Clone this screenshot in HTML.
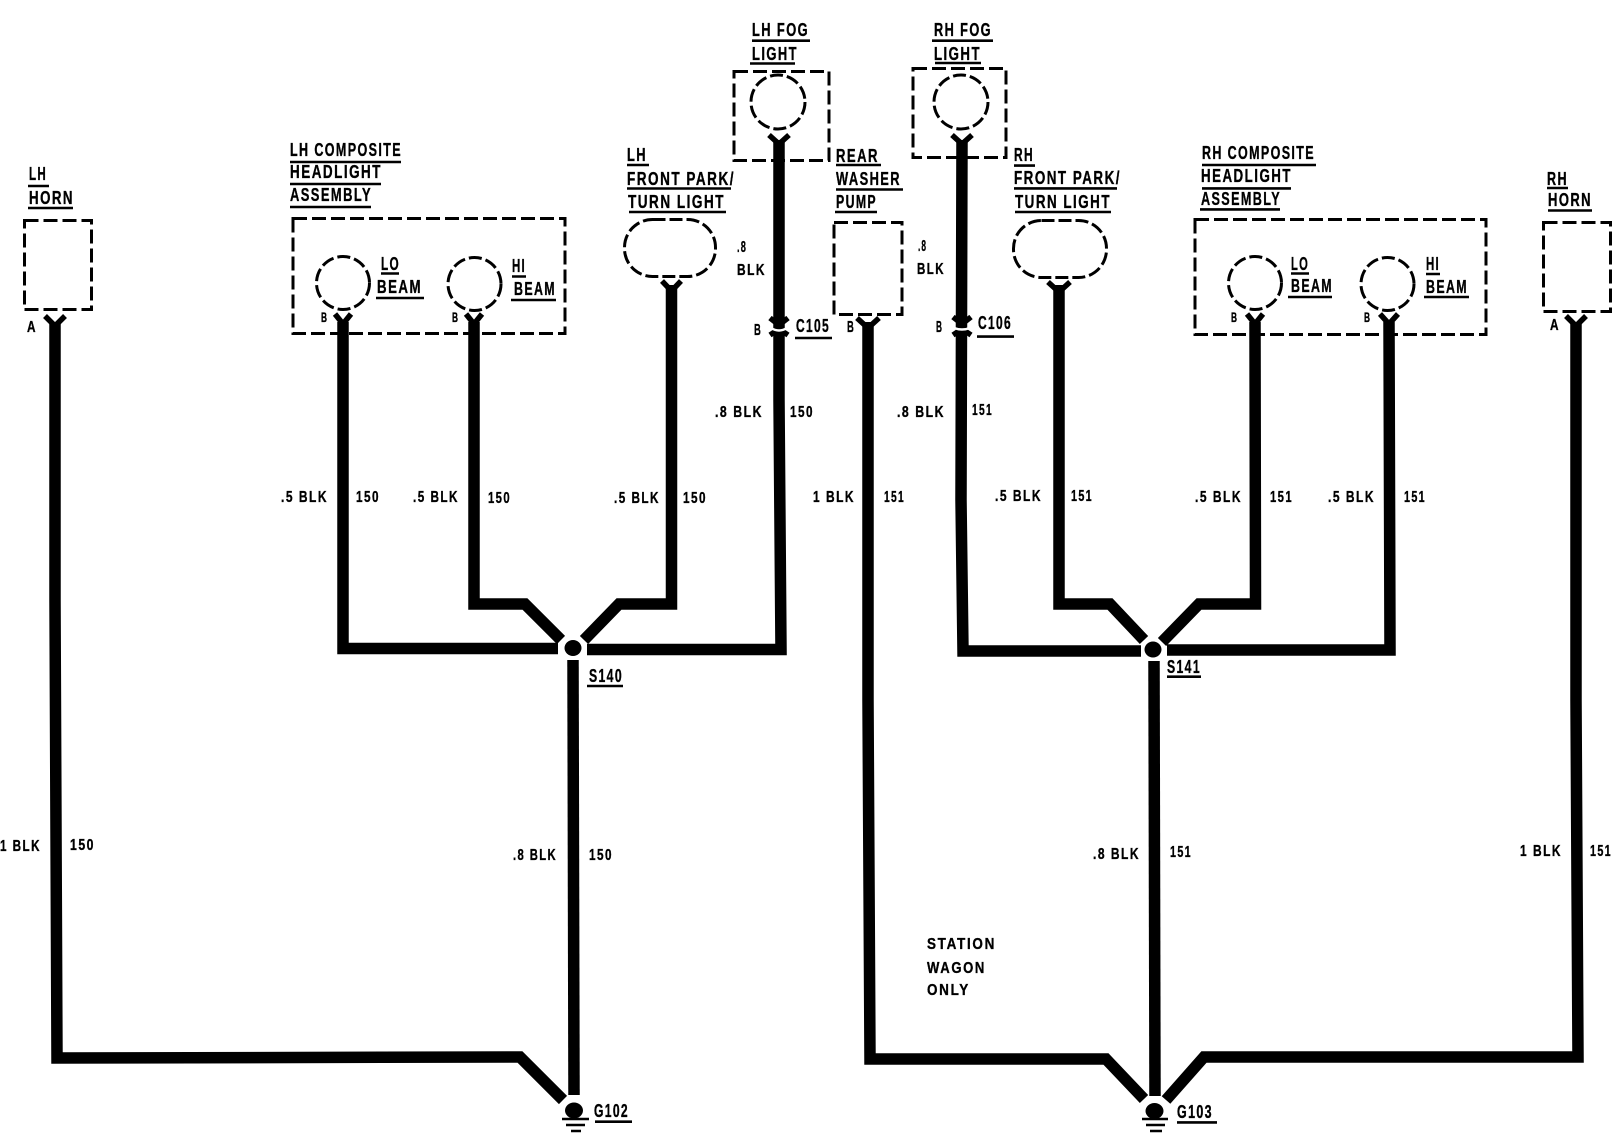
<!DOCTYPE html>
<html><head><meta charset="utf-8"><style>
html,body{margin:0;padding:0;background:#fff}
svg{display:block}
text{font-family:"Liberation Sans",sans-serif;font-weight:700;fill:#000;stroke:#000;stroke-width:.35px}
.l{font-size:18px;letter-spacing:2px}.w{font-size:16px;letter-spacing:2px}.s{font-size:14px}
</style></head><body>
<svg width="1614" height="1136" viewBox="0 0 1614 1136" xmlns="http://www.w3.org/2000/svg">
<rect width="1614" height="1136" fill="#fff"/>
<!-- dashed boxes -->
<g fill="none" stroke="#000" stroke-width="3" stroke-dasharray="14 5">
<rect x="24.5" y="220.5" width="67" height="89"/>
<rect x="293" y="218.5" width="272" height="115"/>
<rect x="734" y="71.5" width="95" height="89"/>
<rect x="913" y="68.5" width="93" height="89"/>
<rect x="834" y="222.5" width="68" height="92"/>
<rect x="1195" y="219.5" width="291" height="115"/>
<rect x="1543.5" y="222.5" width="67" height="89"/>
</g>
<g fill="none" stroke="#000" stroke-width="3" stroke-dasharray="13 4">
<circle cx="343" cy="283" r="26.5"/>
<circle cx="474.5" cy="284" r="26.5"/>
<circle cx="778" cy="102" r="27"/>
<circle cx="961" cy="102" r="27"/>
<circle cx="1255" cy="283" r="26.5"/>
<circle cx="1387.5" cy="284" r="26.5"/>
<rect x="624.5" y="219.5" width="91" height="57" rx="28" ry="28"/>
<rect x="1013.5" y="220.5" width="93" height="57" rx="28" ry="28"/>
</g>
<!-- wires -->
<g fill="none" stroke="#000" stroke-width="11.5" stroke-linejoin="miter">
<polyline points="55,322 55,600 57,1058 520,1057 563,1100"/>
<polyline points="343,322 343,648.5 558,648.5"/>
<polyline points="474,322 474,604 525,604 561,640"/>
<polyline points="671.5,285 671.5,604 619,604 584,640"/>
<polyline points="779,140 779,400 781,649.5 587,649.5"/>
<line x1="573" y1="660" x2="574" y2="1095"/>
<polyline points="868,322 868,700 870,1059 1106,1059 1144,1099"/>
<polyline points="962,140 961,500 963,651 1141,651"/>
<polyline points="1059,285 1059,604 1110,604 1144,640"/>
<polyline points="1255,322 1255.5,604 1199,604 1162,642"/>
<polyline points="1389,322 1390,650 1167,650"/>
<line x1="1154" y1="661" x2="1155" y2="1096"/>
<polyline points="1576,322 1576,700 1578,1057 1204,1057 1166,1100"/>
</g>
<!-- Y terminals -->
<g fill="none" stroke="#000" stroke-width="5.5">
<polyline points="45,316 55,326 65,316"/>
<polyline points="335,314 343,324 351,314"/>
<polyline points="466,314 474,324 482,314"/>
<polyline points="662,281 671.5,291 681,281"/>
<polyline points="769,135 779,144 789,135"/>
<polyline points="952,135 962,144 972,135"/>
<polyline points="857,318 868,328 879,318"/>
<polyline points="1048,282 1059,292 1070,282"/>
<polyline points="1247,314 1255,324 1263,314"/>
<polyline points="1380,314 1389,324 1398,314"/>
<polyline points="1566,316 1576,326 1586,316"/>
<polyline points="770,318 779,325 788,318"/>
<polyline points="770,335 779,329 788,335"/>
<polyline points="953,317 962,324 971,317"/>
<polyline points="953,335 962,329 971,335"/>
</g>
<path d="M771 328Q779 333 787 328M954 328Q962 331 970 328" fill="none" stroke="#fff" stroke-width="2.5"/>
<!-- junctions -->
<g>
<ellipse cx="573" cy="648" rx="8.5" ry="8"/>
<ellipse cx="1153" cy="649.5" rx="8.5" ry="8"/>
<ellipse cx="574" cy="1110.5" rx="9" ry="8"/>
<ellipse cx="1154.5" cy="1111" rx="9" ry="8"/>
</g>
<!-- ground + underlines -->
<path fill="none" stroke="#000" stroke-width="2.6" d="M562 1119H589M566 1125H585M571 1131H581M1142 1119H1168M1146 1125H1165M1150 1131H1162
M28 186H49M28 208H73M290 162H401M290 184H381M290 207H371M381 273.5H399M376 298H424M512 276.5H526M511 300H556
M627 165H649M627 188.5H731M629 212H726M752 40.7H810M750 63.5H795M932 40.7H993M935 63H981M836 165H881M836 189.5H903M835 212H877M795 338H832M977 336.6H1014
M1014 165.6H1035M1014 188.4H1117M1015 212H1111M1202 165H1316M1202 188.4H1291M1200 209.4H1280M1291 273.5H1309M1288 297H1332M1426 274H1440M1424 297H1469M1547 188H1568M1548 210.5H1592
M587 686H623M595 1121.7H632M1167 676.7H1201M1177 1122.4H1217"/>
<!-- labels -->
<g class="l">
<text x="29" y="180" textLength="18" lengthAdjust="spacingAndGlyphs">LH</text>
<text x="29" y="204" textLength="45" lengthAdjust="spacingAndGlyphs">HORN</text>
<text x="290" y="156" textLength="112" lengthAdjust="spacingAndGlyphs">LH COMPOSITE</text>
<text x="290" y="178" textLength="92" lengthAdjust="spacingAndGlyphs">HEADLIGHT</text>
<text x="290" y="201" textLength="82" lengthAdjust="spacingAndGlyphs">ASSEMBLY</text>
<text x="381" y="270" textLength="19" lengthAdjust="spacingAndGlyphs">LO</text>
<text x="377" y="293" textLength="45" lengthAdjust="spacingAndGlyphs">BEAM</text>
<text x="512" y="272" textLength="14" lengthAdjust="spacingAndGlyphs">HI</text>
<text x="514" y="295" textLength="42" lengthAdjust="spacingAndGlyphs">BEAM</text>
<text x="627" y="161" textLength="20" lengthAdjust="spacingAndGlyphs">LH</text>
<text x="627" y="185" textLength="108" lengthAdjust="spacingAndGlyphs">FRONT PARK/</text>
<text x="628" y="208" textLength="97" lengthAdjust="spacingAndGlyphs">TURN LIGHT</text>
<text x="752" y="36" textLength="57" lengthAdjust="spacingAndGlyphs">LH FOG</text>
<text x="752" y="60" textLength="46" lengthAdjust="spacingAndGlyphs">LIGHT</text>
<text x="934" y="36" textLength="58" lengthAdjust="spacingAndGlyphs">RH FOG</text>
<text x="934" y="60" textLength="47" lengthAdjust="spacingAndGlyphs">LIGHT</text>
<text x="836" y="162" textLength="43" lengthAdjust="spacingAndGlyphs">REAR</text>
<text x="836" y="185" textLength="65" lengthAdjust="spacingAndGlyphs">WASHER</text>
<text x="836" y="208" textLength="41" lengthAdjust="spacingAndGlyphs">PUMP</text>
<text x="1014" y="161" textLength="20" lengthAdjust="spacingAndGlyphs">RH</text>
<text x="1014" y="184" textLength="107" lengthAdjust="spacingAndGlyphs">FRONT PARK/</text>
<text x="1015" y="208" textLength="96" lengthAdjust="spacingAndGlyphs">TURN LIGHT</text>
<text x="1202" y="159" textLength="113" lengthAdjust="spacingAndGlyphs">RH COMPOSITE</text>
<text x="1201" y="182" textLength="91" lengthAdjust="spacingAndGlyphs">HEADLIGHT</text>
<text x="1201" y="205" textLength="80" lengthAdjust="spacingAndGlyphs">ASSEMBLY</text>
<text x="1291" y="270" textLength="18" lengthAdjust="spacingAndGlyphs">LO</text>
<text x="1291" y="292" textLength="42" lengthAdjust="spacingAndGlyphs">BEAM</text>
<text x="1426" y="270" textLength="14" lengthAdjust="spacingAndGlyphs">HI</text>
<text x="1426" y="293" textLength="42" lengthAdjust="spacingAndGlyphs">BEAM</text>
<text x="1547" y="185" textLength="21" lengthAdjust="spacingAndGlyphs">RH</text>
<text x="1548" y="206" textLength="44" lengthAdjust="spacingAndGlyphs">HORN</text>
<text x="796" y="332" textLength="34" lengthAdjust="spacingAndGlyphs">C105</text>
<text x="978" y="329" textLength="34" lengthAdjust="spacingAndGlyphs">C106</text>
<text x="589" y="682" textLength="34" lengthAdjust="spacingAndGlyphs">S140</text>
<text x="1167" y="673" textLength="34" lengthAdjust="spacingAndGlyphs">S141</text>
<text x="594" y="1117" textLength="35" lengthAdjust="spacingAndGlyphs">G102</text>
<text x="1177" y="1118" textLength="36" lengthAdjust="spacingAndGlyphs">G103</text>
</g>
<g class="w">
<text x="27" y="332" textLength="10" lengthAdjust="spacingAndGlyphs">A</text>
<text x="1550" y="330" textLength="10" lengthAdjust="spacingAndGlyphs">A</text>
<text x="754" y="335" textLength="8" lengthAdjust="spacingAndGlyphs">B</text>
<text x="847" y="332" textLength="8" lengthAdjust="spacingAndGlyphs">B</text>
<text x="936" y="332" textLength="7" lengthAdjust="spacingAndGlyphs">B</text>
<text x="737" y="252" textLength="10" lengthAdjust="spacingAndGlyphs">.8</text>
<text x="737" y="275" textLength="29" lengthAdjust="spacingAndGlyphs">BLK</text>
<text x="918" y="251" textLength="9" lengthAdjust="spacingAndGlyphs">.8</text>
<text x="917" y="274" textLength="28" lengthAdjust="spacingAndGlyphs">BLK</text>
<text x="281" y="502" textLength="47" lengthAdjust="spacingAndGlyphs">.5 BLK</text>
<text x="356" y="502" textLength="24" lengthAdjust="spacingAndGlyphs">150</text>
<text x="413" y="502" textLength="46" lengthAdjust="spacingAndGlyphs">.5 BLK</text>
<text x="488" y="503" textLength="23" lengthAdjust="spacingAndGlyphs">150</text>
<text x="614" y="503" textLength="46" lengthAdjust="spacingAndGlyphs">.5 BLK</text>
<text x="683" y="503" textLength="24" lengthAdjust="spacingAndGlyphs">150</text>
<text x="715" y="417" textLength="48" lengthAdjust="spacingAndGlyphs">.8 BLK</text>
<text x="790" y="417" textLength="24" lengthAdjust="spacingAndGlyphs">150</text>
<text x="813" y="502" textLength="42" lengthAdjust="spacingAndGlyphs">1 BLK</text>
<text x="884" y="502" textLength="21" lengthAdjust="spacingAndGlyphs">151</text>
<text x="897" y="417" textLength="48" lengthAdjust="spacingAndGlyphs">.8 BLK</text>
<text x="972" y="415" textLength="21" lengthAdjust="spacingAndGlyphs">151</text>
<text x="995" y="501" textLength="47" lengthAdjust="spacingAndGlyphs">.5 BLK</text>
<text x="1071" y="501" textLength="22" lengthAdjust="spacingAndGlyphs">151</text>
<text x="1195" y="502" textLength="47" lengthAdjust="spacingAndGlyphs">.5 BLK</text>
<text x="1270" y="502" textLength="23" lengthAdjust="spacingAndGlyphs">151</text>
<text x="1328" y="502" textLength="47" lengthAdjust="spacingAndGlyphs">.5 BLK</text>
<text x="1404" y="502" textLength="22" lengthAdjust="spacingAndGlyphs">151</text>
<text x="0" y="851" textLength="41" lengthAdjust="spacingAndGlyphs">1 BLK</text>
<text x="70" y="850" textLength="25" lengthAdjust="spacingAndGlyphs">150</text>
<text x="513" y="860" textLength="44" lengthAdjust="spacingAndGlyphs">.8 BLK</text>
<text x="589" y="860" textLength="24" lengthAdjust="spacingAndGlyphs">150</text>
<text x="1093" y="859" textLength="47" lengthAdjust="spacingAndGlyphs">.8 BLK</text>
<text x="1170" y="857" textLength="22" lengthAdjust="spacingAndGlyphs">151</text>
<text x="1520" y="856" textLength="42" lengthAdjust="spacingAndGlyphs">1 BLK</text>
<text x="1590" y="856" textLength="22" lengthAdjust="spacingAndGlyphs">151</text>
<text x="927" y="949" textLength="69" lengthAdjust="spacingAndGlyphs">STATION</text>
<text x="927" y="973" textLength="59" lengthAdjust="spacingAndGlyphs">WAGON</text>
<text x="927" y="995" textLength="43" lengthAdjust="spacingAndGlyphs">ONLY</text>
</g>
<g class="s">
<text x="321" y="322" textLength="6" lengthAdjust="spacingAndGlyphs">B</text>
<text x="452" y="322" textLength="6" lengthAdjust="spacingAndGlyphs">B</text>
<text x="1231" y="322" textLength="6" lengthAdjust="spacingAndGlyphs">B</text>
<text x="1364" y="322" textLength="6" lengthAdjust="spacingAndGlyphs">B</text>
</g>
</svg>
</body></html>
